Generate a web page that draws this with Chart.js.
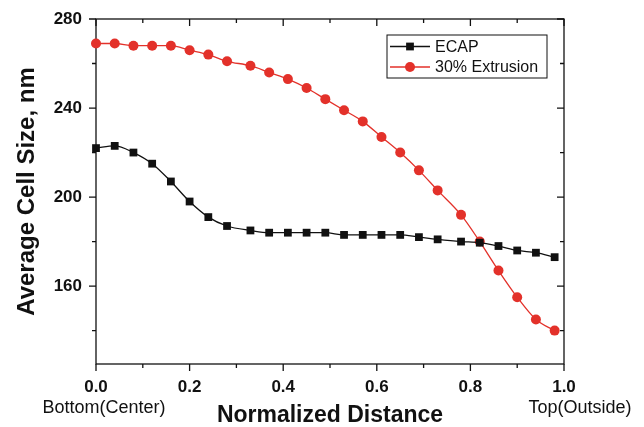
<!DOCTYPE html>
<html>
<head>
<meta charset="utf-8">
<script src="https://cdn.jsdelivr.net/npm/chart.js@4/dist/chart.umd.min.js"></script>
<style>
  html, body { margin: 0; padding: 0; background: #fff; }
  #wrap { width: 644px; height: 427px; }
</style>
</head>
<body>
<div id="wrap"><canvas id="grafico" width="644" height="427"></canvas></div>
<script>
// dati
const distanza = [0.00, 0.04, 0.08, 0.12, 0.16, 0.20, 0.24, 0.28, 0.33, 0.37, 0.41, 0.45, 0.49,
                  0.53, 0.57, 0.61, 0.65, 0.69, 0.73, 0.78, 0.82, 0.86, 0.90, 0.94, 0.98];
const ecap = [222, 223, 220, 215, 207, 198, 191, 187, 185, 184, 184, 184, 184,
              183, 183, 183, 183, 182, 181, 180, 179.5, 178, 176, 175, 173];
const estrusione = [269, 269, 268, 268, 268, 266, 264, 261, 259, 256, 253, 249, 244,
                    239, 234, 227, 220, 212, 203, 192, 180, 167, 155, 145, 140];
const xTicks = [0, 0.1, 0.2, 0.3, 0.4, 0.5, 0.6, 0.7, 0.8, 0.9, 1.0];
const yTicks = [140, 160, 180, 200, 220, 240, 260, 280];

const FONT = "'Liberation Sans', Arial, sans-serif";
Chart.defaults.font.family = FONT;
Chart.defaults.color = '#111';

const toXY = (ys) => ys.map((v, i) => ({ x: distanza[i], y: v }));

// cornice, tacche interne/esterne, legenda ed etichette extra
const cornice = {
  id: 'cornice',
  beforeDatasetsDraw(chart) {
    const { ctx, chartArea: a, scales: { x, y } } = chart;
    ctx.save();
    ctx.strokeStyle = '#111';
    ctx.lineWidth = 1.3;
    ctx.strokeRect(a.left, a.top, a.right - a.left, a.bottom - a.top);
    ctx.beginPath();
    xTicks.forEach((v, i) => {
      const px = x.getPixelForValue(v);
      const len = i % 2 === 0 ? 7 : 4;
      ctx.moveTo(px, a.bottom); ctx.lineTo(px, a.bottom + len);
      ctx.moveTo(px, a.top); ctx.lineTo(px, a.top + len);
    });
    yTicks.forEach((v) => {
      const py = y.getPixelForValue(v);
      const len = v % 40 === 0 ? 7 : 4;
      ctx.moveTo(a.left, py); ctx.lineTo(a.left - len, py);
      ctx.moveTo(a.right, py); ctx.lineTo(a.right - len, py);
    });
    ctx.stroke();
    ctx.restore();
  },
  afterDraw(chart) {
    const { ctx, chartArea: a, scales: { x } } = chart;
    ctx.save();
    // etichette sotto gli estremi
    ctx.font = '18px ' + FONT;
    ctx.fillStyle = '#111';
    ctx.textAlign = 'center';
    ctx.textBaseline = 'middle';
    ctx.fillText('Bottom(Center)', x.getPixelForValue(0) + 8, 408);
    ctx.fillText('Top(Outside)', x.getPixelForValue(1) + 16, 408);

    // legenda
    const bx = a.right - 177, by = a.top + 16, bw = 160, bh = 43;
    ctx.fillStyle = '#fff';
    ctx.fillRect(bx, by, bw, bh);
    ctx.strokeStyle = '#111';
    ctx.lineWidth = 1;
    ctx.strokeRect(bx, by, bw, bh);
    ctx.font = '16px ' + FONT;
    ctx.textAlign = 'left';
    chart.data.datasets.forEach((ds, i) => {
      const cy = by + 11.5 + i * 20.5;
      ctx.strokeStyle = ds.borderColor;
      ctx.lineWidth = 1.3;
      ctx.beginPath();
      ctx.moveTo(bx + 3, cy); ctx.lineTo(bx + 43, cy);
      ctx.stroke();
      ctx.fillStyle = ds.pointBackgroundColor;
      Chart.helpers.drawPoint(ctx, { pointStyle: ds.pointStyle, radius: ds.pointRadius, borderWidth: 0 }, bx + 23, cy);
      ctx.fillStyle = '#111';
      ctx.fillText(ds.label, bx + 48, cy + 1);
    });
    ctx.restore();
  }
};

new Chart(document.getElementById('grafico').getContext('2d'), {
  type: 'line',
  data: {
    datasets: [{
      label: 'ECAP',
      data: toXY(ecap),
      borderColor: '#111',
      backgroundColor: '#111',
      pointBackgroundColor: '#111',
      pointBorderColor: '#111',
      pointStyle: 'rect',
      pointRadius: 5.5,
      pointBorderWidth: 0,
      borderWidth: 1.3,
      cubicInterpolationMode: 'monotone',
      clip: false
    }, {
      label: '30% Extrusion',
      data: toXY(estrusione),
      borderColor: '#e3312a',
      backgroundColor: '#e3312a',
      pointBackgroundColor: '#e3312a',
      pointBorderColor: '#e3312a',
      pointStyle: 'circle',
      pointRadius: 5,
      pointBorderWidth: 0,
      borderWidth: 1.3,
      cubicInterpolationMode: 'monotone',
      clip: false
    }]
  },
  options: {
    responsive: false,
    animation: false,
    events: [],
    layout: { padding: { top: 19, right: 80, left: 0, bottom: 0 } },
    plugins: { legend: { display: false }, tooltip: { enabled: false } },
    scales: {
      x: {
        type: 'linear',
        min: 0, max: 1,
        afterBuildTicks: (s) => { s.ticks = xTicks.map(v => ({ value: v })); },
        afterFit: (s) => { s.height = 63; s.paddingLeft = 0; s.paddingRight = 0; },
        grid: { display: false, drawTicks: false },
        border: { display: false },
        ticks: {
          autoSkip: false, maxRotation: 0, padding: 13,
          font: { size: 17, weight: 'bold' },
          callback: (v, i) => (i % 2 === 0 ? Number(v).toFixed(1) : '')
        },
        title: { display: true, text: 'Normalized Distance', font: { size: 23, weight: 'bold', lineHeight: 1 }, padding: { top: -2, bottom: 0 } }
      },
      y: {
        min: 125, max: 280,
        afterBuildTicks: (s) => { s.ticks = yTicks.map(v => ({ value: v })); },
        afterFit: (s) => { s.width = 96; s.paddingTop = 0; s.paddingBottom = 0; },
        grid: { display: false, drawTicks: false },
        border: { display: false },
        ticks: {
          autoSkip: false, padding: 14,
          font: { size: 17, weight: 'bold' },
          callback: (v) => (v % 40 === 0 ? String(v) : '')
        },
        title: { display: true, text: 'Average Cell Size, nm', font: { size: 24, weight: 'bold', lineHeight: 1 }, padding: { top: 15, bottom: 0 } }
      }
    }
  },
  plugins: [cornice]
});
</script>
</body>
</html>
